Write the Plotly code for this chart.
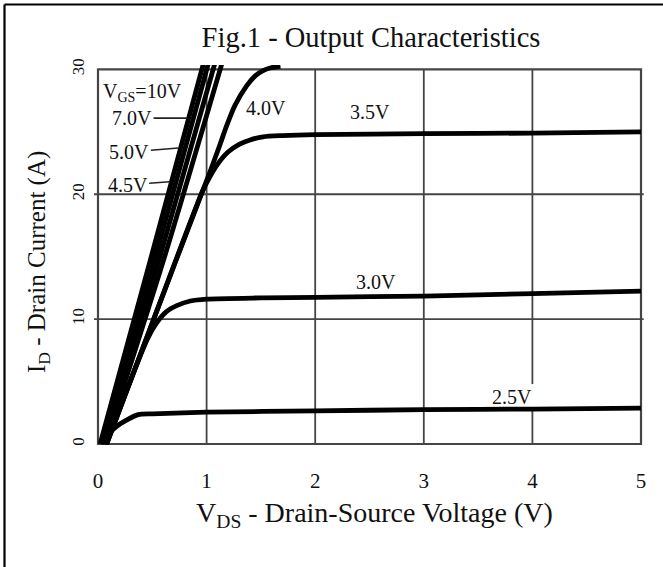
import plotly.graph_objects as go

# ---------------- data ----------------
x_ticks = [0, 1, 2, 3, 4, 5]
y_ticks = [0, 10, 20, 30]

vds_10v = [0.02, 0.50, 0.975]
id_10v = [0.0, 15.3, 30.6]

vds_7v = [0.035, 0.53, 1.02]
id_7v = [0.0, 15.0, 30.6]

vds_5v = [0.05, 0.57, 1.08]
id_5v = [0.0, 15.0, 30.6]

vds_4v5 = [0.065, 0.62, 1.145]
id_4v5 = [0.0, 15.2, 30.6]

vds_4v0 = [0.08, 0.50, 0.96, 1.04, 1.12, 1.185, 1.26, 1.37, 1.45, 1.52, 1.60, 1.68]
id_4v0 = [0.0, 9.7, 20.2, 22.0, 23.9, 25.5, 27.1, 28.7, 29.5, 29.9, 30.15, 30.25]

vds_3v5 = [0.08, 0.50, 0.96, 1.03, 1.10, 1.20, 1.30, 1.40, 1.52, 1.70, 2.0, 3.0, 4.0, 5.0]
id_3v5 = [0.0, 9.7, 20.2, 21.4, 22.4, 23.4, 24.0, 24.35, 24.6, 24.7, 24.78, 24.85, 24.9, 25.0]

vds_3v0 = [0.07, 0.20, 0.30, 0.40, 0.46, 0.54, 0.63, 0.73, 0.85, 1.0, 1.5, 2.0, 3.0, 4.0, 5.0]
id_3v0 = [0.0, 3.0, 5.1, 7.3, 8.5, 9.7, 10.6, 11.1, 11.45, 11.6, 11.7, 11.75, 11.85, 12.05, 12.25]

vds_2v5 = [0.06, 0.12, 0.17, 0.25, 0.37, 0.5, 1.0, 2.0, 3.0, 4.0, 5.0]
id_2v5 = [0.0, 1.0, 1.4, 1.85, 2.35, 2.42, 2.55, 2.65, 2.75, 2.8, 2.87]

curves = [
    (vds_10v, id_10v), (vds_7v, id_7v), (vds_5v, id_5v), (vds_4v5, id_4v5),
    (vds_4v0, id_4v0), (vds_3v5, id_3v5), (vds_3v0, id_3v0), (vds_2v5, id_2v5),
]

# curve labels: (text, x, y)
curve_labels = [
    ("4.0V", 1.55, 26.9),
    ("3.5V", 2.50, 26.55),
    ("3.0V", 2.56, 12.95),
    ("2.5V", 3.81, 3.8),
]

# ---------------- layout geometry ----------------
W, H = 663, 567
ML, MR, MT, MB = 94, 18, 65, 119
PW, PH = W - ML - MR, H - MT - MB
XMIN, XMAX = -4 / 108.6, 5 + 4 / 108.6
YMIN, YMAX = -4 / 12.5, 30 + 4.4 / 12.5

FONT = "Liberation Serif, Times New Roman, serif"
GRID = "#454545"

fig = go.Figure()
for xs, ys in curves:
    fig.add_trace(go.Scatter(x=xs, y=ys, mode="lines",
                             line=dict(color="black", width=4.8, shape="spline", smoothing=0.7),
                             hoverinfo="skip", showlegend=False))

shapes = []
# frame
shapes.append(dict(type="rect", xref="x", yref="y", x0=x_ticks[0], x1=x_ticks[-1],
                   y0=y_ticks[0], y1=y_ticks[-1], line=dict(color=GRID, width=2.2), layer="below"))
for xv in x_ticks[1:-1]:
    shapes.append(dict(type="line", xref="x", yref="y", x0=xv, x1=xv, y0=y_ticks[0], y1=y_ticks[-1],
                       line=dict(color=GRID, width=1.8), layer="below"))
for yv in y_ticks[1:-1]:
    shapes.append(dict(type="line", xref="x", yref="y", x0=-0.055, x1=5.025, y0=yv, y1=yv,
                       line=dict(color=GRID, width=1.8), layer="below"))
# white patch behind the 2.5V label (it hides the x=4 grid line there)
shapes.append(dict(type="rect", xref="x", yref="y", x0=3.96, x1=4.04, y0=2.95, y1=4.8,
                   fillcolor="white", line=dict(width=0), layer="below"))
# outer page border (top and left only)
px_x = lambda p: (p - ML) / PW
px_y = lambda p: (H - MB - p) / PH
shapes.append(dict(type="line", xref="paper", yref="paper", x0=px_x(4.5), x1=px_x(W + 5),
                   y0=px_y(4.5), y1=px_y(4.5), line=dict(color="black", width=2.2)))
shapes.append(dict(type="line", xref="paper", yref="paper", x0=px_x(4.5), x1=px_x(4.5),
                   y0=px_y(4.5), y1=px_y(H + 5), line=dict(color="black", width=2.2)))

ann = []
lab_font = dict(family=FONT, size=20, color="#111")
for t, xv, yv in curve_labels:
    ann.append(dict(x=xv, y=yv, xref="x", yref="y", text=t, showarrow=False, font=lab_font))
# VGS label
ann.append(dict(x=0.41, y=28.15, xref="x", yref="y", text="V<sub>GS</sub>=10V", showarrow=False,
                font=lab_font))
# leader-line labels
ann.append(dict(x=0.82, y=26.1, xref="x", yref="y", text="7.0V", showarrow=True, arrowhead=0,
                arrowwidth=1.6, arrowcolor="#222", ax=-55, ay=0, font=lab_font))
ann.append(dict(x=0.74, y=23.7, xref="x", yref="y", text="5.0V", showarrow=True, arrowhead=0,
                arrowwidth=1.6, arrowcolor="#222", ax=-49, ay=4, font=lab_font))
ann.append(dict(x=0.66, y=21.0, xref="x", yref="y", text="4.5V", showarrow=True, arrowhead=0,
                arrowwidth=1.6, arrowcolor="#222", ax=-42, ay=3, font=lab_font))
# axis titles
ann.append(dict(x=px_x(374), y=px_y(514), xref="paper", yref="paper",
                text="V<sub>DS</sub> - Drain-Source Voltage (V)", showarrow=False,
                font=dict(family=FONT, size=28, color="#111"), xanchor="center", yanchor="middle"))
ann.append(dict(x=px_x(38), y=px_y(262), xref="paper", yref="paper",
                text="I<sub>D</sub> - Drain Current (A)", showarrow=False, textangle=-90,
                font=dict(family=FONT, size=25, color="#111"), xanchor="center", yanchor="middle"))

fig.update_layout(
    width=W, height=H,
    margin=dict(l=ML, r=MR, t=MT, b=MB, pad=0),
    paper_bgcolor="white", plot_bgcolor="white",
    title=dict(text="Fig.1 - Output Characteristics", x=371 / W, xanchor="center",
               y=1 - 37 / H, yanchor="middle", yref="container",
               font=dict(family=FONT, size=28.5, color="#111")),
    xaxis=dict(range=[XMIN, XMAX], tickvals=x_ticks, ticktext=[str(v) for v in x_ticks],
               showgrid=False, zeroline=False, showline=False, ticks="",
               tickfont=dict(family=FONT, size=21, color="#111"), ticklabelstandoff=18),
    yaxis=dict(range=[YMIN, YMAX], tickvals=y_ticks, ticktext=[str(v) for v in y_ticks],
               showgrid=False, zeroline=False, showline=False, ticks="", tickangle=-90,
               tickfont=dict(family=FONT, size=17, color="#111"), ticklabelstandoff=6),
    shapes=shapes, annotations=ann,
)

fig.write_html("out.html", config={"displayModeBar": False, "staticPlot": True},
               post_script="document.body.style.margin='0';document.body.style.padding='0';")
